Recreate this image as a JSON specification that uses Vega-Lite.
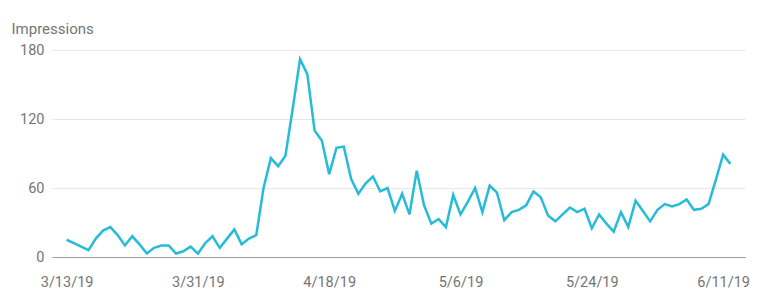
{
  "$schema": "https://vega.github.io/schema/vega-lite/v6.json",
  "autosize": "none",
  "width": 693,
  "height": 207,
  "padding": {"left": 52, "top": 50, "right": 25, "bottom": 49},
  "background": "white",
  "config": {"view": {"stroke": null}, "font": "Roboto"},
  "data": {
    "format": {"parse": {"date": "date:'%Y-%m-%d'"}},
    "values": [
      {"date": "2019-03-13", "impressions": 15},
      {"date": "2019-03-14", "impressions": 12},
      {"date": "2019-03-15", "impressions": 9},
      {"date": "2019-03-16", "impressions": 6},
      {"date": "2019-03-17", "impressions": 16},
      {"date": "2019-03-18", "impressions": 23},
      {"date": "2019-03-19", "impressions": 26},
      {"date": "2019-03-20", "impressions": 19},
      {"date": "2019-03-21", "impressions": 10},
      {"date": "2019-03-22", "impressions": 18},
      {"date": "2019-03-23", "impressions": 11},
      {"date": "2019-03-24", "impressions": 3},
      {"date": "2019-03-25", "impressions": 8},
      {"date": "2019-03-26", "impressions": 10},
      {"date": "2019-03-27", "impressions": 10},
      {"date": "2019-03-28", "impressions": 3},
      {"date": "2019-03-29", "impressions": 5},
      {"date": "2019-03-30", "impressions": 9},
      {"date": "2019-03-31", "impressions": 3},
      {"date": "2019-04-01", "impressions": 12},
      {"date": "2019-04-02", "impressions": 18},
      {"date": "2019-04-03", "impressions": 8},
      {"date": "2019-04-04", "impressions": 16},
      {"date": "2019-04-05", "impressions": 24},
      {"date": "2019-04-06", "impressions": 11},
      {"date": "2019-04-07", "impressions": 16},
      {"date": "2019-04-08", "impressions": 19},
      {"date": "2019-04-09", "impressions": 60},
      {"date": "2019-04-10", "impressions": 86},
      {"date": "2019-04-11", "impressions": 79},
      {"date": "2019-04-12", "impressions": 88},
      {"date": "2019-04-13", "impressions": 129},
      {"date": "2019-04-14", "impressions": 172},
      {"date": "2019-04-15", "impressions": 159},
      {"date": "2019-04-16", "impressions": 110},
      {"date": "2019-04-17", "impressions": 101},
      {"date": "2019-04-18", "impressions": 72},
      {"date": "2019-04-19", "impressions": 95},
      {"date": "2019-04-20", "impressions": 96},
      {"date": "2019-04-21", "impressions": 68},
      {"date": "2019-04-22", "impressions": 55},
      {"date": "2019-04-23", "impressions": 64},
      {"date": "2019-04-24", "impressions": 70},
      {"date": "2019-04-25", "impressions": 57},
      {"date": "2019-04-26", "impressions": 60},
      {"date": "2019-04-27", "impressions": 40},
      {"date": "2019-04-28", "impressions": 55},
      {"date": "2019-04-29", "impressions": 37},
      {"date": "2019-04-30", "impressions": 75},
      {"date": "2019-05-01", "impressions": 45},
      {"date": "2019-05-02", "impressions": 29},
      {"date": "2019-05-03", "impressions": 33},
      {"date": "2019-05-04", "impressions": 26},
      {"date": "2019-05-05", "impressions": 54},
      {"date": "2019-05-06", "impressions": 37},
      {"date": "2019-05-07", "impressions": 48},
      {"date": "2019-05-08", "impressions": 60},
      {"date": "2019-05-09", "impressions": 39},
      {"date": "2019-05-10", "impressions": 62},
      {"date": "2019-05-11", "impressions": 56},
      {"date": "2019-05-12", "impressions": 32},
      {"date": "2019-05-13", "impressions": 39},
      {"date": "2019-05-14", "impressions": 41},
      {"date": "2019-05-15", "impressions": 45},
      {"date": "2019-05-16", "impressions": 57},
      {"date": "2019-05-17", "impressions": 52},
      {"date": "2019-05-18", "impressions": 36},
      {"date": "2019-05-19", "impressions": 31},
      {"date": "2019-05-20", "impressions": 37},
      {"date": "2019-05-21", "impressions": 43},
      {"date": "2019-05-22", "impressions": 39},
      {"date": "2019-05-23", "impressions": 42},
      {"date": "2019-05-24", "impressions": 25},
      {"date": "2019-05-25", "impressions": 37},
      {"date": "2019-05-26", "impressions": 29},
      {"date": "2019-05-27", "impressions": 22},
      {"date": "2019-05-28", "impressions": 39},
      {"date": "2019-05-29", "impressions": 26},
      {"date": "2019-05-30", "impressions": 49},
      {"date": "2019-05-31", "impressions": 40},
      {"date": "2019-06-01", "impressions": 31},
      {"date": "2019-06-02", "impressions": 41},
      {"date": "2019-06-03", "impressions": 46},
      {"date": "2019-06-04", "impressions": 44},
      {"date": "2019-06-05", "impressions": 46},
      {"date": "2019-06-06", "impressions": 50},
      {"date": "2019-06-07", "impressions": 41},
      {"date": "2019-06-08", "impressions": 42},
      {"date": "2019-06-09", "impressions": 46},
      {"date": "2019-06-10", "impressions": 67},
      {"date": "2019-06-11", "impressions": 89},
      {"date": "2019-06-12", "impressions": 81}
    ]
  },
  "mark": {"type": "line", "color": "#26bcd7", "strokeWidth": 2.5, "strokeJoin": "miter"},
  "encoding": {
    "x": {
      "field": "date",
      "type": "temporal",
      "scale": {
        "domain": [
          {"year": 2019, "month": 3, "date": 11},
          {"year": 2019, "month": 6, "date": 14}
        ]
      },
      "axis": {
        "title": null,
        "values": [
          {"year": 2019, "month": 3, "date": 13},
          {"year": 2019, "month": 3, "date": 31},
          {"year": 2019, "month": 4, "date": 18},
          {"year": 2019, "month": 5, "date": 6},
          {"year": 2019, "month": 5, "date": 24},
          {"year": 2019, "month": 6, "date": 11}
        ],
        "format": "%-m/%-d/%y",
        "grid": false,
        "ticks": false,
        "domain": true,
        "domainColor": "#9e9e9e",
        "domainWidth": 1,
        "labelFont": "Roboto",
        "labelFontSize": 14.5,
        "labelColor": "#757575",
        "labelPadding": 18,
        "labelFlush": false,
        "labelOverlap": false
      }
    },
    "y": {
      "field": "impressions",
      "type": "quantitative",
      "scale": {"domain": [0, 180], "nice": false},
      "axis": {
        "title": "Impressions",
        "titleAngle": 0,
        "titleAlign": "left",
        "titleBaseline": "alphabetic",
        "titleX": -41,
        "titleY": -17,
        "titleFont": "Roboto",
        "titleFontSize": 15,
        "titleFontWeight": "normal",
        "titleColor": "#757575",
        "values": [0, 60, 120, 180],
        "grid": true,
        "gridColor": "#e8e8e8",
        "gridWidth": 1,
        "ticks": false,
        "domain": false,
        "labelFont": "Roboto",
        "labelFontSize": 14.5,
        "labelColor": "#757575",
        "labelPadding": 8,
        "labelBaseline": "middle"
      }
    }
  }
}
